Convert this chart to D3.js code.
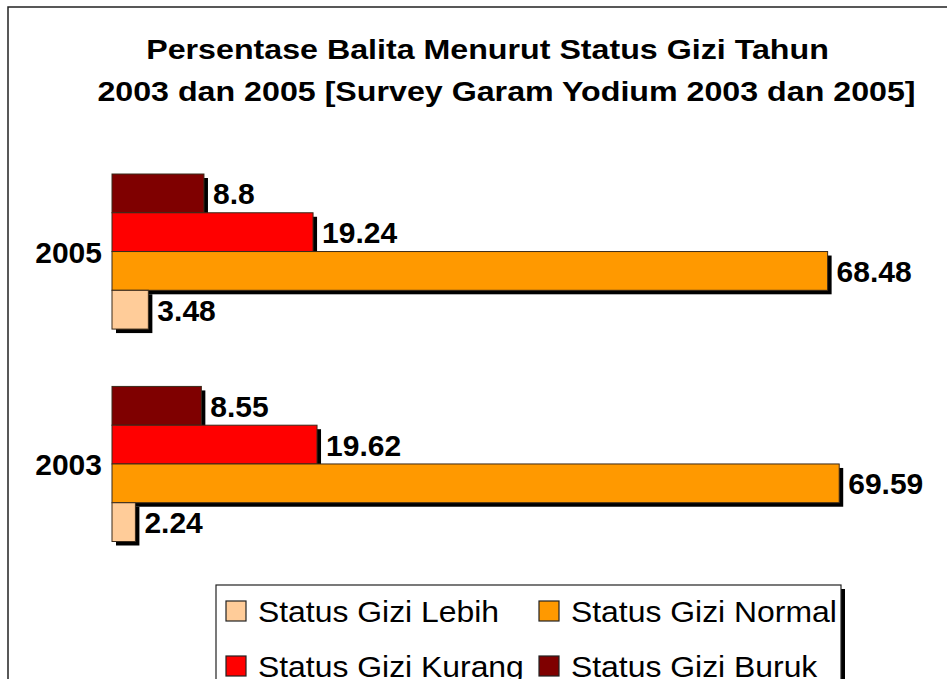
<!DOCTYPE html>
<html>
<head>
<meta charset="utf-8">
<script src="https://cdn.jsdelivr.net/npm/d3@7"></script>
<style>
  html, body { margin: 0; padding: 0; background: #fff; }
  svg { display: block; font-family: Arial, "Liberation Sans", sans-serif; }
</style>
</head>
<body>
<svg id="chart" width="947" height="679"></svg>
<script>
// ---- data ----
const categories = ["2005", "2003"];
const seriesNames = ["Status Gizi Buruk", "Status Gizi Kurang", "Status Gizi Normal", "Status Gizi Lebih"];
const buruk  = [8.8, 8.55];
const kurang = [19.24, 19.62];
const normal = [68.48, 69.59];
const lebih  = [3.48, 2.24];
const colors = ["#7f0000", "#ff0000", "#ff9900", "#ffcc99"];
const legendOrder = ["Status Gizi Lebih", "Status Gizi Normal", "Status Gizi Kurang", "Status Gizi Buruk"];
const titleLines = ["Persentase Balita Menurut Status Gizi Tahun",
                    "2003 dan 2005 [Survey Garam Yodium 2003 dan 2005]"];

const values = [buruk, kurang, normal, lebih];
const rows = [];
categories.forEach((c, ci) => {
  seriesNames.forEach((s, si) => rows.push({cat: c, series: s, si: si, value: values[si][ci]}));
});

const svg = d3.select("#chart");

// outer frame
svg.append("rect").attr("x", 8).attr("y", 7).attr("width", 1000).attr("height", 1000)
  .attr("fill", "none").attr("stroke", "#222").attr("stroke-width", 1.5);

// title
const titleCenters = [487.5, 506.5];
const titleBase = [59, 101];
titleLines.forEach((t, i) => {
  svg.append("text")
    .attr("transform", `translate(${titleCenters[i]},${titleBase[i]}) scale(1.13,1)`)
    .attr("text-anchor", "middle")
    .attr("font-size", 28.5).attr("font-weight", "bold").attr("fill", "#000")
    .text(t);
});

// scales
const x = d3.scaleLinear().domain([0, 80]).range([112, 948]);
const y = d3.scaleBand().domain(categories).range([174, 541.5]).paddingInner(0.27).paddingOuter(0);
const yInner = d3.scaleBand().domain(seriesNames).range([0, y.bandwidth()]);
const color = d3.scaleOrdinal().domain(seriesNames).range(colors);

const g = svg.append("g");

// shadows
g.selectAll("rect.shadow").data(rows).join("rect").attr("class", "shadow")
  .attr("x", x(0) + 4)
  .attr("y", d => y(d.cat) + yInner(d.series) + 4)
  .attr("width", d => x(d.value) - x(0))
  .attr("height", yInner.bandwidth())
  .attr("fill", "#000");

// bars
g.selectAll("rect.bar").data(rows).join("rect").attr("class", "bar")
  .attr("x", x(0))
  .attr("y", d => y(d.cat) + yInner(d.series))
  .attr("width", d => x(d.value) - x(0))
  .attr("height", yInner.bandwidth())
  .attr("fill", d => color(d.series))
  .attr("stroke", "#3a2a1a").attr("stroke-width", 1);

// value labels
g.selectAll("text.val").data(rows).join("text").attr("class", "val")
  .attr("x", d => x(d.value) + 9)
  .attr("y", d => y(d.cat) + yInner(d.series) + yInner.bandwidth() / 2 + 11)
  .attr("font-size", 30).attr("font-weight", "bold").attr("fill", "#000")
  .text(d => String(d.value));

// category labels
g.selectAll("text.cat").data(categories).join("text").attr("class", "cat")
  .attr("x", 102)
  .attr("y", d => y(d) + y.bandwidth() / 2 + 11)
  .attr("text-anchor", "end")
  .attr("font-size", 30).attr("font-weight", "bold").attr("fill", "#000")
  .text(d => d);

// legend
const lg = svg.append("g");
lg.append("rect").attr("x", 220).attr("y", 589).attr("width", 625).attr("height", 200).attr("fill", "#000");
lg.append("rect").attr("x", 216).attr("y", 585).attr("width", 625).attr("height", 200)
  .attr("fill", "#fff").attr("stroke", "#222").attr("stroke-width", 1.2);

const colX = [226, 539];
const rowY = [601, 656];
legendOrder.forEach((s, i) => {
  const cx = colX[i % 2], ry = rowY[Math.floor(i / 2)];
  lg.append("rect").attr("x", cx).attr("y", ry).attr("width", 20).attr("height", 20)
    .attr("fill", color(s)).attr("stroke", "#222").attr("stroke-width", 1.2);
  lg.append("text")
    .attr("transform", `translate(${cx + 32},${ry + 21}) scale(1.1,1)`)
    .attr("font-size", 29).attr("fill", "#000")
    .text(s);
});
</script>
</body>
</html>
